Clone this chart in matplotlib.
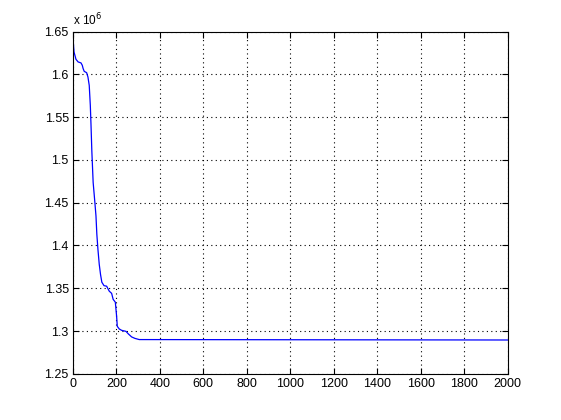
import numpy as np
import matplotlib.pyplot as plt
from matplotlib.ticker import FuncFormatter

# iteration / objective values
iters = [1, 5, 14, 24, 37, 43, 47, 52, 63, 69, 75, 80, 83, 87, 93, 101, 106,
         110, 115, 121, 127, 133, 143, 155, 167, 178, 185, 195, 201, 204, 213,
         224, 244, 255, 270, 285, 305, 2000]
cost = [1.640, 1.626, 1.6175, 1.6144, 1.6133, 1.6105, 1.6066, 1.6034, 1.6019,
        1.5969, 1.587, 1.5636, 1.542, 1.510, 1.4737, 1.450, 1.4345, 1.413,
        1.3955, 1.378, 1.366, 1.357, 1.353, 1.3524, 1.3466, 1.344, 1.337,
        1.3337, 1.3172, 1.3055, 1.3024, 1.3008, 1.2996, 1.2966, 1.2931,
        1.2914, 1.290, 1.2895]
cost = np.array(cost) * 1e6

xticks = np.arange(0, 2001, 200)
yticks = np.array([1.25, 1.3, 1.35, 1.4, 1.45, 1.5, 1.55, 1.6, 1.65]) * 1e6

plt.rcParams['font.family'] = ['Liberation Sans', 'DejaVu Sans']
fig = plt.figure(figsize=(5.61, 4.2), dpi=100)
ax = fig.add_axes([0.13, 0.11, 0.775, 0.815])

ax.plot(iters, cost, color='#0000ff', linewidth=0.9)
ax.set_xlim(0, 2000)
ax.set_ylim(1.25e6, 1.65e6)
ax.set_xticks(xticks)
ax.set_yticks(yticks)
ax.yaxis.set_major_formatter(FuncFormatter(lambda v, p: ('%.2f' % (v / 1e6)).rstrip('0')))
ax.grid(True, color='black', linestyle=(0, (1, 3)), linewidth=0.8)
ax.tick_params(direction='in', top=True, right=True, labelsize=9, length=4, width=0.8, pad=3)
for s in ax.spines.values():
    s.set_linewidth(0.8)
ax.text(0, 1.008, 'x 10$^6$', transform=ax.transAxes, fontsize=8.5, ha='left', va='bottom')

fig.savefig('out.png', dpi=100)
